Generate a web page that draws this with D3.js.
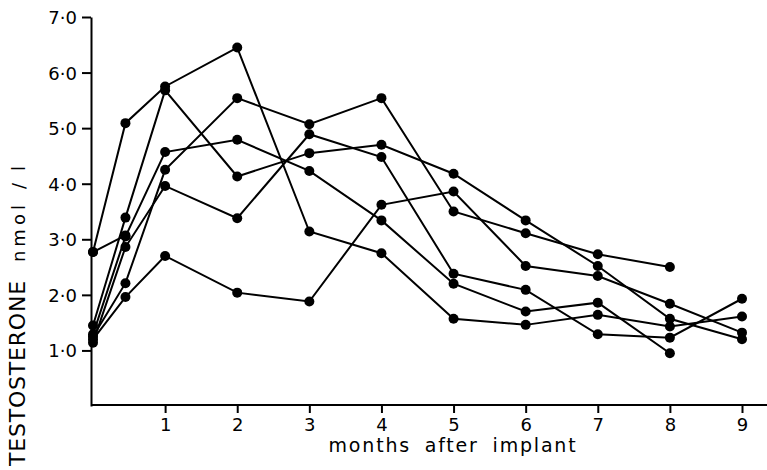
<!DOCTYPE html>
<html>
<head>
<meta charset="utf-8">
<script src="https://cdn.jsdelivr.net/npm/d3@7/dist/d3.min.js"></script>
<style>
    body { margin: 0; background: #fff; }
    svg { display: block; }
    .axis text { font-family: 'DejaVu Sans', sans-serif; font-size: 18px; fill: #000; }
    .axis path, .axis line { stroke: #000; stroke-width: 2px; }
</style>
</head>
<body>
<script>
// months after implant (0.45 = two weeks)
const months = [0, 0.45, 1, 2, 3, 4, 5, 6, 7, 8, 9];

// testosterone nmol/l per patient, null = no sample
const patientA = [2.77, 5.09, 5.75, 6.45, 3.14, 2.75, 1.57, 1.46, 1.64, 1.43, 1.61];
const patientB = [1.45, 3.39, 5.68, 4.13, 4.55, 4.70, 4.18, 3.34, 2.52, 1.57, 1.20];
const patientC = [1.29, 3.05, 4.57, 4.79, 4.23, 3.34, 2.20, 1.70, 1.86, 0.95, null];
const patientD = [1.25, 2.21, 4.25, 5.54, 5.07, 5.54, 3.50, 3.11, 2.73, 2.50, null];
const patientE = [1.14, 2.86, 3.96, 3.38, 4.89, 4.48, 2.38, 2.09, 1.29, 1.23, 1.93];
const patientF = [1.20, 1.96, 2.70, 2.04, 1.88, 3.62, 3.86, 2.52, 2.34, 1.84, 1.32];
const patientG = [2.77, 3.07, null, null, null, null, null, null, null, null, null];

const xTicks = [1, 2, 3, 4, 5, 6, 7, 8, 9];
const yTicks = [1, 2, 3, 4, 5, 6, 7];

const series = [patientA, patientB, patientC, patientD, patientE, patientF, patientG];

let width = 767, height = 470;

let x = d3.scaleLinear().domain([0, 9]).range([93, 742]),
    y = d3.scaleLinear().domain([0, 7]).range([406, 17]);

let svg = d3.select('body').append('svg')
            .attr('width', width).attr('height', height);

// y axis
let yAxis = d3.axisLeft(y).tickValues(yTicks).tickSize(9).tickSizeOuter(0)
              .tickFormat(d => d.toFixed(1).replace('.', '\u00b7'));
let gy = svg.append('g').attr('class', 'axis').attr('transform', 'translate(91, 0)').call(yAxis);
gy.selectAll('text').attr('x', -14).attr('dy', '0.36em');

// x axis
let xAxis = d3.axisBottom(x).tickValues(xTicks).tickSize(8).tickSizeOuter(0).tickFormat(d3.format('d'));
let gx = svg.append('g').attr('class', 'axis').attr('transform', 'translate(0, 405)').call(xAxis);
gx.select('.domain').remove();
gx.selectAll('text').attr('y', 13);
svg.append('line').attr('x1', 91).attr('x2', 767).attr('y1', 405).attr('y2', 405)
   .attr('stroke', '#000').attr('stroke-width', 2);

// axis titles
svg.append('text').attr('x', 453).attr('y', 452).attr('text-anchor', 'middle')
   .style('font-family', "'DejaVu Sans', sans-serif").style('font-size', '19px')
   .style('letter-spacing', '1.8px').style('word-spacing', '6px')
   .text('months after implant');

let yTitle = svg.append('text').attr('transform', 'translate(25, 166) rotate(-90)')
   .attr('text-anchor', 'end')
   .style('font-family', "'DejaVu Sans', sans-serif");
yTitle.append('tspan').style('font-size', '22px').style('letter-spacing', '0.8px').text('TESTOSTERONE');
yTitle.append('tspan').attr('dx', 18).style('font-size', '18px').style('letter-spacing', '4px').text('nmol');
yTitle.append('tspan').attr('dx', 12).style('font-size', '18px').text('/');
yTitle.append('tspan').attr('dx', 12).style('font-size', '18px').text('l');

// lines and points
let line = d3.line()
             .defined(d => d.v != null)
             .x(d => x(d.m))
             .y(d => y(d.v));

series.forEach(s => {
    let pts = s.map((v, i) => ({ m: months[i], v: v }));
    svg.append('path').attr('d', line(pts))
       .attr('fill', 'none').attr('stroke', '#000').attr('stroke-width', 2);
    svg.selectAll(null).data(pts.filter(d => d.v != null)).enter()
       .append('circle')
       .attr('cx', d => x(d.m)).attr('cy', d => y(d.v)).attr('r', 5)
       .attr('fill', '#000');
});
</script>
</body>
</html>
